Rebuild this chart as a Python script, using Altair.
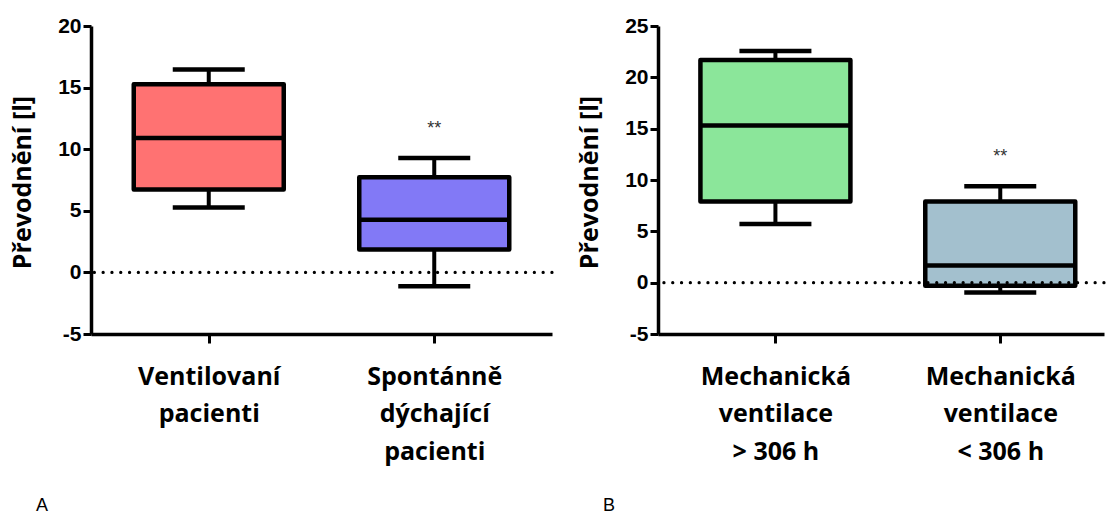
import altair as alt
import pandas as pd

# ---------------- data ----------------
y_title = "Převodnění [l]"

a_pos = [1, 2]
a_labels = [["Ventilovaní", "pacienti"], ["Spontánně", "dýchající", "pacienti"]]
a_min = [5.27, -1.13]
a_q1 = [6.73, 1.85]
a_med = [10.9, 4.27]
a_q3 = [15.27, 7.73]
a_max = [16.46, 9.28]
a_colors = ["#FF7272", "#8279F6"]
a_sig = ["", "**"]
a_sig_y = [None, 11.6]

b_pos = [1, 2]
b_labels = [["Mechanická", "ventilace", "> 306 h"], ["Mechanická", "ventilace", "< 306 h"]]
b_min = [5.72, -0.95]
b_q1 = [7.9, -0.29]
b_med = [15.3, 1.66]
b_q3 = [21.7, 7.9]
b_max = [22.57, 9.4]
b_colors = ["#8BE69A", "#A3C0CE"]
b_sig = ["", "**"]
b_sig_y = [None, 12.25]

LABEL_FONT = "Open Sans"
TICK_FONT = "Liberation Sans"


def label_expr(labels):
    parts = []
    for i, lines in enumerate(labels, start=1):
        arr = "[" + ",".join("'" + s + "'" for s in lines) + "]"
        parts.append((i, arr))
    expr = parts[-1][1]
    for i, arr in reversed(parts[:-1]):
        expr = f"datum.value == {i} ? {arr} : {expr}"
    return expr


def panel(pos, labels, mn, q1, med, q3, mx, colors, sig, sig_y,
          ydomain, yticks, xdomain, width, letter):
    df = pd.DataFrame({"pos": pos, "min": mn, "q1": q1, "med": med, "q3": q3,
                       "max": mx, "color": colors, "sig": sig, "sig_y": sig_y})
    zero_df = pd.DataFrame({"z": [0]})

    xaxis = alt.Axis(values=[1, 2], labelExpr=label_expr(labels), title=None,
                     grid=False, labelAngle=0, labelFont=LABEL_FONT,
                     labelFontWeight="bold", labelFontSize=25, labelLineHeight=37.5,
                     labelBaseline="top", labelPadding=21, tickSize=9,
                     labelColor="black", domainColor="black", domainWidth=3.5,
                     tickColor="black", tickWidth=3)
    yaxis = alt.Axis(values=yticks, title=y_title, grid=False,
                     labelExpr="datum.value + ''",
                     labelFont=TICK_FONT, labelFontWeight="bold", labelFontSize=21,
                     labelPadding=2, labelColor="black",
                     titleFont=LABEL_FONT, titleFontWeight="bold", titleFontSize=25,
                     titleBaseline="middle", titleAlign="center", titleAngle=-90,
                     titleX=-69, titleY=156,
                     titleColor="black", tickSize=8,
                     domainColor="black", domainWidth=3.5,
                     tickColor="black", tickWidth=3)

    def X():
        return alt.X("pos:Q", scale=alt.Scale(domain=xdomain, nice=False, zero=False),
                     axis=xaxis)

    def Y(field):
        return alt.Y(f"{field}:Q", scale=alt.Scale(domain=ydomain, nice=False, zero=False),
                     axis=yaxis)

    base = alt.Chart(df)
    whisk = base.mark_rule(color="black", strokeWidth=4).encode(
        x=X(), y=Y("min"), y2="max:Q")
    box = base.mark_bar(size=150, stroke="black", strokeWidth=4.5,
                        strokeJoin="round", opacity=1).encode(
        x=X(), y=Y("q1"), y2="q3:Q", color=alt.Color("color:N", scale=None))
    median = base.mark_tick(orient="horizontal", size=150, thickness=4.5,
                            color="black", opacity=1).encode(x=X(), y=Y("med"))
    cap_lo = base.mark_tick(orient="horizontal", size=72, thickness=4.5,
                            color="black", opacity=1).encode(x=X(), y=Y("min"))
    cap_hi = base.mark_tick(orient="horizontal", size=72, thickness=4.5,
                            color="black", opacity=1).encode(x=X(), y=Y("max"))
    zero = alt.Chart(zero_df).mark_rule(color="black", strokeWidth=3.2,
                                        strokeDash=[0.1, 8.7], strokeCap="round").encode(
        y=Y("z"))
    stars = base.mark_text(font=TICK_FONT, fontSize=18, color="#333333",
                           baseline="middle").encode(
        x=X(), y=Y("sig_y"), text="sig:N")

    return alt.layer(whisk, box, median, cap_lo, cap_hi, zero, stars).properties(
        width=width, height=308,
        title=alt.TitleParams(letter, orient="bottom", anchor="start", frame="bounds",
                              font=TICK_FONT, fontSize=18, fontWeight="normal",
                              color="black", dx=26, offset=33))


left = panel(a_pos, a_labels, a_min, a_q1, a_med, a_q3, a_max, a_colors, a_sig,
             a_sig_y, [-5, 20], [-5, 0, 5, 10, 15, 20], [0.5, 2.5], 461, "A")
right = panel(b_pos, b_labels, b_min, b_q1, b_med, b_q3, b_max, b_colors, b_sig,
              b_sig_y, [-5, 25], [-5, 0, 5, 10, 15, 20, 25], [0.5, 0.5 + 446 / 230], 446, "B")

chart = alt.hconcat(left, right, spacing=23).properties(
    padding={"left": 10, "top": 15, "right": 0, "bottom": 0},
    background="white"
).configure_view(stroke=None)

chart.save("out.html", embed_options={"renderer": "svg", "actions": False})
